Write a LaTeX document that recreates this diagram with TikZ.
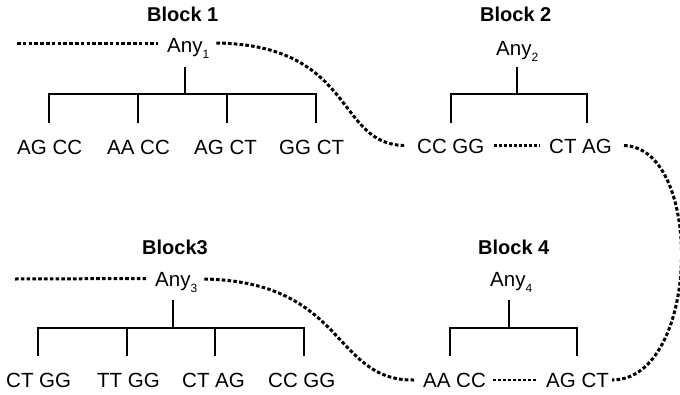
\documentclass[tikz,border=0pt]{standalone}
\usepackage{fontspec}
\setmainfont{Liberation Sans}
\newcommand{\anysub}[1]{Any\raisebox{-6pt}{\fontsize{12}{12}\selectfont #1}}
\begin{document}
\begin{tikzpicture}[x=1pt,y=-1pt,
  lbl/.style={font=\fontsize{20.5}{24}\selectfont, inner sep=0pt, anchor=base west},
  ttl/.style={font=\fontsize{20}{24}\selectfont\bfseries, inner sep=0pt, anchor=base west},
  tree/.style={line width=2.8pt},
  dots/.style={line width=3pt, dash pattern=on 3.6pt off 2.2pt},
  fine/.style={line width=2.6pt, dash pattern=on 3pt off 2pt}]
\useasboundingbox (0,0) rectangle (680,394);

% ---- titles
\node[ttl] (t1) at (147,21) {Block 1};
\node[ttl] (t2) at (480,21) {Block 2};
\node[ttl] (t3) at (142,254) {Block3};
\node[ttl] (t4) at (478,254) {Block 4};

% ---- roots
\node[lbl] (any1) at (167,52) {\anysub{1}};
\node[lbl] (any2) at (496,55) {\anysub{2}};
\node[lbl] (any3) at (155,286) {\anysub{3}};
\node[lbl] (any4) at (490,286) {\anysub{4}};

% ---- leaves
\node[lbl] (a1) at (17,154)  {AG CC};
\node[lbl] (a2) at (107,154) {AA CC};
\node[lbl] (a3) at (194,154) {AG CT};
\node[lbl] (a4) at (279,154) {GG CT};

\node[lbl] (b1) at (417,153) {CC GG};
\node[lbl] (b2) at (549,153) {CT AG};

\node[lbl] (c1) at (6,387)   {CT GG};
\node[lbl] (c2) at (97,387)  {TT GG};
\node[lbl] (c3) at (182,387) {CT AG};
\node[lbl] (c4) at (268,387) {CC GG};

\node[lbl] (d1) at (423,387) {AA CC};
\node[lbl] (d2) at (546,387) {AG CT};

% ---- trees
\draw[tree] (185,67) -- (185,94);
\draw[tree] (49,123) |- (316,94) -- (316,123);
\draw[tree] (138,94) -- (138,123);
\draw[tree] (227,94) -- (227,123);

\draw[tree] (517,67) -- (517,94);
\draw[tree] (451,123) |- (587,94) -- (587,123);

\draw[tree] (173,300) -- (173,328);
\draw[tree] (38,356) |- (304,328) -- (304,356);
\draw[tree] (127,328) -- (127,356);
\draw[tree] (215,328) -- (215,356);

\draw[tree] (509,300) -- (509,328);
\draw[tree] (450,356) |- (577,328) -- (577,356);

% ---- free ends of the leading lines
\coordinate (s1) at (17,43);
\coordinate (s3) at (15,279);

% ---- dotted links
\draw[dots] (s1) -- ([xshift=-9pt,yshift=9pt]any1.base west);
\draw[dots] ([xshift=7pt,yshift=9pt]any1.base east)
  .. controls (357,45) and (335,146) .. ([xshift=-11pt,yshift=7.5pt]b1.base west);
\draw[fine] ([xshift=9pt,yshift=7.5pt]b1.base east) -- ([xshift=-10pt,yshift=7.5pt]b2.base west);
\draw[dots] ([xshift=12pt,yshift=7.5pt]b2.base east)
  .. controls (705,148) and (700,380) .. ([xshift=3pt,yshift=7pt]d2.base east);

\draw[dots] (s3) -- ([xshift=-9pt,yshift=7.5pt]any3.base west);
\draw[dots] ([xshift=7pt,yshift=7pt]any3.base east)
  .. controls (347,282) and (332,381) .. ([xshift=-9pt,yshift=7pt]d1.base west);
\draw[fine] ([xshift=7pt,yshift=7pt]d1.base east) -- ([xshift=-8pt,yshift=7pt]d2.base west);
\end{tikzpicture}
\end{document}
